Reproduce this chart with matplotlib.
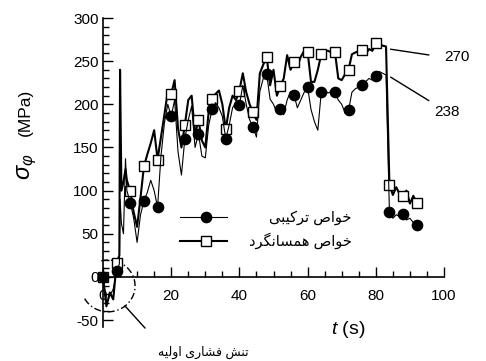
import matplotlib
matplotlib.use("Agg")
import matplotlib.pyplot as plt
from matplotlib.patches import Arc
from matplotlib.lines import Line2D
from matplotlib.ticker import MultipleLocator

plt.rcParams["font.family"] = ["Liberation Sans", "DejaVu Sans"]
plt.rcParams["axes.unicode_minus"] = False
plt.rcParams["mathtext.fontset"] = "custom"
plt.rcParams["mathtext.rm"] = "Liberation Sans"
plt.rcParams["mathtext.it"] = "Liberation Sans:italic"

# ---------------------------------------------------------------- data
t_line = [0, 1, 2, 3, 4, 4.8, 5, 5.4, 6, 6.6, 7, 8, 9, 10, 11, 12, 13, 14, 15, 16,
          17, 18, 19, 20, 21, 22, 23, 24, 25, 26, 27, 28, 29, 30, 31, 32, 33, 34,
          35, 36, 37, 38, 39, 40, 41, 42, 43, 44, 45, 46, 47, 48, 49, 50, 51, 52,
          53, 54, 55, 56, 57, 58, 59, 60, 61, 62, 63, 64, 65, 66, 67, 68, 69, 70,
          71, 72, 73, 74, 75, 76, 77, 78, 79, 80, 81, 82, 83, 84, 85, 86, 87, 88,
          89, 90, 91, 92, 93]

# isotropic material properties
stress_iso = [0, -34, -18, -26, 16, 25, 240, 100, 110, 125, 112, 99, 75, 58, 92, 128,
              142, 155, 170, 136, 162, 188, 215, 212, 228, 172, 150, 176, 205, 210,
              165, 182, 158, 150, 192, 206, 212, 216, 200, 171, 196, 210, 205, 216,
              236, 214, 200, 191, 182, 236, 246, 255, 222, 240, 210, 221, 230, 257,
              240, 249, 244, 255, 262, 261, 226, 226, 240, 258, 262, 262, 260, 261,
              230, 228, 235, 240, 258, 260, 262, 263, 258, 264, 262, 271, 270, 268,
              267, 107, 95, 104, 96, 94, 100, 85, 94, 86, 89]

# combined material properties
stress_comb = [0, -30, -22, -14, 7, 15, 90, 62, 50, 137, 100, 86, 68, 40, 72, 88,
               98, 112, 100, 81, 140, 178, 200, 186, 205, 145, 118, 160, 182, 198,
               150, 166, 140, 138, 176, 194, 202, 196, 186, 160, 176, 196, 202, 199,
               222, 200, 182, 174, 162, 215, 230, 235, 206, 200, 190, 194, 188, 205,
               215, 211, 196, 205, 214, 220, 194, 180, 170, 214, 216, 213, 215, 214,
               205, 200, 190, 193, 214, 218, 220, 222, 226, 230, 228, 233, 238, 236,
               234, 75, 68, 72, 70, 73, 66, 68, 63, 60]

marker_step = 4          # a symbol every 4 s
final_iso, final_comb = 270, 238

x_ticks = [0, 20, 40, 60, 80, 100]
y_ticks = [-50, 0, 50, 100, 150, 200, 250, 300]


# ------------------------------------------------- Persian text shaping
# contextual forms: isolated, final, initial, medial
FORMS = {
    "ا": ("\uFE8D", "\uFE8E", None, None),
    "ب": ("\uFE8F", "\uFE90", "\uFE91", "\uFE92"),
    "ت": ("\uFE95", "\uFE96", "\uFE97", "\uFE98"),
    "خ": ("\uFEA5", "\uFEA6", "\uFEA7", "\uFEA8"),
    "د": ("\uFEA9", "\uFEAA", None, None),
    "ر": ("\uFEAD", "\uFEAE", None, None),
    "س": ("\uFEB1", "\uFEB2", "\uFEB3", "\uFEB4"),
    "ش": ("\uFEB5", "\uFEB6", "\uFEB7", "\uFEB8"),
    "ص": ("\uFEB9", "\uFEBA", "\uFEBB", "\uFEBC"),
    "ف": ("\uFED1", "\uFED2", "\uFED3", "\uFED4"),
    "ل": ("\uFEDD", "\uFEDE", "\uFEDF", "\uFEE0"),
    "م": ("\uFEE1", "\uFEE2", "\uFEE3", "\uFEE4"),
    "ن": ("\uFEE5", "\uFEE6", "\uFEE7", "\uFEE8"),
    "ه": ("\uFEE9", "\uFEEA", "\uFEEB", "\uFEEC"),
    "و": ("\uFEED", "\uFEEE", None, None),
    "ک": ("\uFB8E", "\uFB8F", "\uFB90", "\uFB91"),
    "گ": ("\uFB92", "\uFB93", "\uFB94", "\uFB95"),
    "ی": ("\uFBFC", "\uFBFD", "\uFBFE", "\uFBFF"),
}


def shape_fa(text):
    out = []
    for i, ch in enumerate(text):
        if ch not in FORMS:
            out.append(ch)
            continue
        prev = text[i - 1] if i > 0 else None
        nxt = text[i + 1] if i + 1 < len(text) else None
        dual = FORMS[ch][2] is not None
        join_prev = prev in FORMS and FORMS[prev][2] is not None
        join_next = dual and nxt in FORMS
        iso, fin, ini, med = FORMS[ch]
        if join_prev and join_next:
            out.append(med)
        elif join_prev:
            out.append(fin)
        elif join_next:
            out.append(ini)
        else:
            out.append(iso)
    return "".join(reversed(out))


label_comb = shape_fa("خواص ترکیبی")
label_iso = shape_fa("خواص همسانگرد")
label_note = shape_fa("تنش فشاری اولیه")

# ---------------------------------------------------------------- figure
fig = plt.figure(figsize=(4.86, 3.61), dpi=100)
ax = fig.add_axes([103 / 486, 34 / 361, 341 / 486, 309 / 361])
ax.set_xlim(0, 100)
ax.set_ylim(-58, 300)

t_comb = t_line[:len(stress_comb)]
idx_iso = [i for i, t in enumerate(t_line) if t % marker_step == 0]
idx_comb = [i for i, t in enumerate(t_comb) if t % marker_step == 0]

ax.plot(t_line, stress_iso, color="black", lw=1.5, marker="s", ms=6.6,
        mfc="white", mec="black", mew=1.0, markevery=idx_iso, clip_on=False,
        zorder=3)
ax.plot(t_comb, stress_comb, color="black", lw=0.8, marker="o", ms=7.4,
        mfc="black", mec="black", markevery=idx_comb, clip_on=False, zorder=4)

# spines through the origin
for side in ("top", "right"):
    ax.spines[side].set_visible(False)
ax.spines["bottom"].set_position(("data", 0))
ax.spines["left"].set_position(("data", 0))
for side in ("bottom", "left"):
    ax.spines[side].set_linewidth(1.2)

ax.set_xticks(x_ticks)
ax.set_yticks(y_ticks)
ax.xaxis.set_minor_locator(MultipleLocator(5))
ax.yaxis.set_minor_locator(MultipleLocator(10))
ax.tick_params(which="both", direction="in", width=1.0, labelsize=11)
ax.tick_params(which="major", length=7)
ax.tick_params(which="minor", length=4)
ax.tick_params(axis="x", pad=9)
ax.tick_params(axis="y", pad=3)

# axis titles
fig.text(27 / 486, 1 - 167 / 361, r"$\sigma_\varphi$", rotation=90,
         ha="center", va="center", fontsize=17)
fig.text(25 / 486, 1 - 112 / 361, "(MPa)", rotation=90,
         ha="center", va="center", fontsize=12.5)
fig.text(348 / 486, 1 - 329 / 361, r"$t$ (s)", ha="center", va="center",
         fontsize=14)

# legend keys
for y_frac, face, mk, lw, lab in ((0.355, "black", "o", 0.8, label_comb),
                                  (0.2785, "white", "s", 1.5, label_iso)):
    ax.add_line(Line2D([0.226, 0.364], [y_frac, y_frac], transform=ax.transAxes,
                       color="black", lw=lw))
    ax.add_line(Line2D([0.303], [y_frac], transform=ax.transAxes, marker=mk,
                       ms=7.4 if mk == "o" else 6.6, mfc=face, mec="black",
                       mew=1.0, lw=0))
    ax.text(0.73, y_frac, lab, transform=ax.transAxes, ha="right", va="center",
            fontsize=10.5)

# final value call-outs
ax.plot([84.4, 95.5], [263.8, 257.2], color="black", lw=1.0, clip_on=False)
ax.plot([84.4, 95.5], [231.4, 204.4], color="black", lw=1.0, clip_on=False)
ax.text(103.8, 255, f"{final_iso}", ha="center", va="center", fontsize=11,
        clip_on=False)
ax.text(100.9, 191, f"{final_comb}", ha="center", va="center", fontsize=11,
        clip_on=False)

# initial compressive stress marker
ax.add_patch(Arc((1.5, -10.4), 15.8, 60, theta1=-115, theta2=95, color="black",
                 lw=1.0, linestyle=(0, (5, 2, 1, 2)), clip_on=False))
ax.plot([6.45, 12.3], [-33.6, -59.1], color="black", lw=1.0, clip_on=False)
ax.text(29.5, -87, label_note, ha="center", va="center", fontsize=9,
        clip_on=False)

fig.savefig("out.png", dpi=100, facecolor="white")
